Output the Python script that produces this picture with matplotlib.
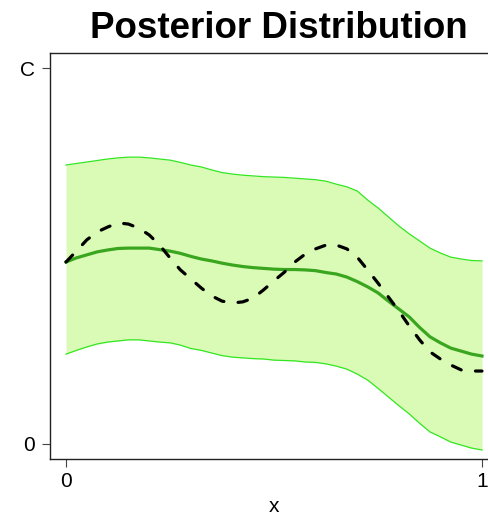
import matplotlib.pyplot as plt

plt.rcParams['font.family'] = ['Liberation Sans', 'DejaVu Sans']

# x positions and curve readings (y in units where C = 1)
x = [0.000, 0.025, 0.050, 0.075, 0.100, 0.125, 0.150, 0.175, 0.200, 0.225,
     0.250, 0.275, 0.300, 0.325, 0.350, 0.375, 0.400, 0.425, 0.450, 0.475,
     0.500, 0.525, 0.550, 0.575, 0.600, 0.625, 0.650, 0.675, 0.700, 0.725,
     0.750, 0.775, 0.800, 0.825, 0.850, 0.875, 0.900, 0.925, 0.950, 0.975, 1.000]
upper = [0.742, 0.746, 0.750, 0.754, 0.758, 0.761, 0.763, 0.763, 0.761, 0.758,
         0.755, 0.749, 0.742, 0.737, 0.729, 0.722, 0.718, 0.715, 0.713, 0.711,
         0.710, 0.709, 0.707, 0.705, 0.703, 0.699, 0.691, 0.684, 0.673, 0.649,
         0.628, 0.604, 0.580, 0.559, 0.540, 0.521, 0.508, 0.497, 0.492, 0.488, 0.487]
mean = [0.484, 0.495, 0.503, 0.511, 0.516, 0.520, 0.521, 0.521, 0.521, 0.517,
        0.513, 0.507, 0.499, 0.492, 0.487, 0.481, 0.476, 0.472, 0.469, 0.467,
        0.465, 0.464, 0.464, 0.463, 0.461, 0.456, 0.452, 0.444, 0.432, 0.418,
        0.402, 0.380, 0.359, 0.338, 0.310, 0.285, 0.269, 0.255, 0.247, 0.239, 0.234]
lower = [0.239, 0.249, 0.258, 0.266, 0.271, 0.274, 0.277, 0.277, 0.274, 0.271,
         0.269, 0.263, 0.254, 0.249, 0.242, 0.235, 0.231, 0.229, 0.227, 0.226,
         0.223, 0.222, 0.221, 0.218, 0.217, 0.213, 0.207, 0.199, 0.186, 0.170,
         0.148, 0.125, 0.102, 0.080, 0.055, 0.032, 0.019, 0.005, -0.003, -0.011, -0.016]
truth = [0.484, 0.513, 0.543, 0.564, 0.577, 0.588, 0.585, 0.574, 0.556, 0.529,
         0.495, 0.463, 0.439, 0.415, 0.394, 0.380, 0.375, 0.378, 0.388, 0.410,
         0.434, 0.457, 0.484, 0.505, 0.519, 0.529, 0.529, 0.519, 0.497, 0.463,
         0.428, 0.391, 0.354, 0.314, 0.277, 0.245, 0.226, 0.210, 0.197, 0.194, 0.194]

fig = plt.figure(figsize=(4.88, 5.15), dpi=100)
ax = fig.add_axes([50 / 488, 56 / 515, 448 / 488, 406 / 515])

ax.fill_between(x, lower, upper, color='#d9fbb6', lw=0)
ax.plot(x, upper, color='#33e620', lw=0.9)
ax.plot(x, lower, color='#33e620', lw=0.9)
ax.plot(x, mean, color='#3aa51e', lw=2.3)
ax.plot(x, truth, color='black', lw=2.3, dashes=(3.0, 4.5), dash_capstyle='round')

ax.set_xlim(-0.0385, 1.0385)
ax.set_ylim(-0.04, 1.04)
ax.set_xticks([0, 1])
ax.set_xticklabels(['0', '1'])
ax.set_yticks([0, 1])
ax.set_yticklabels(['0', 'C'])
ax.tick_params(labelsize=15, length=6, width=0.8, color='#444444')
ax.tick_params(axis='y', pad=5)
for s in ax.spines.values():
    s.set_linewidth(1.0)
    s.set_color('#222222')

ax.set_xlabel('x', fontsize=15, labelpad=4)
ax.set_title('Posterior Distribution', fontsize=26.5, fontweight='bold', pad=11, x=0.511)

fig.savefig('out.png', dpi=100)
